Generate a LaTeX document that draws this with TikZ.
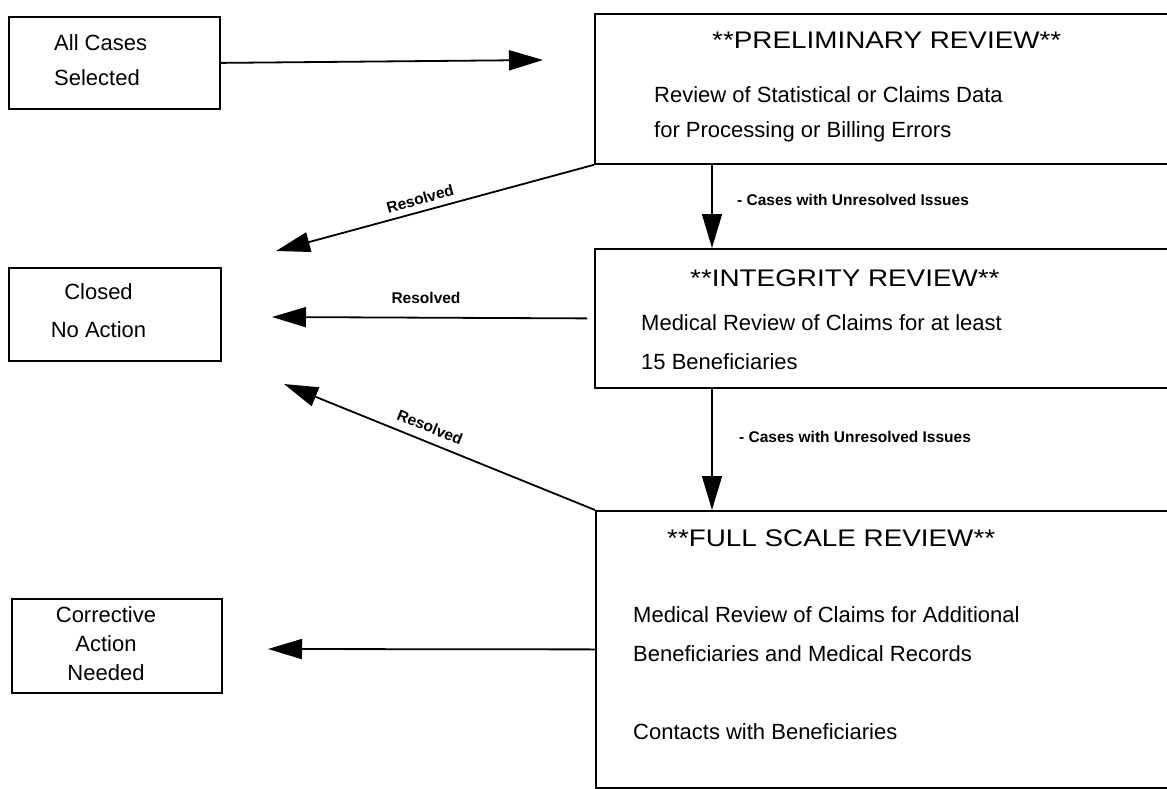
\documentclass[tikz,border=0pt]{standalone}
\usepackage{fontspec}
\setmainfont{Liberation Sans}
\usepackage{graphicx}
\usetikzlibrary{arrows.meta}
\newcommand{\wtitle}[1]{\scalebox{1.16}[1]{#1}}

\begin{document}
\begin{tikzpicture}[x=1pt,y=-1pt,
  box/.style={draw,line width=1.8pt,inner sep=0pt,anchor=north west},
  txt/.style={inner sep=0pt,anchor=west,align=left,font=\fontsize{22}{39}\selectfont},
  ttl/.style={inner sep=0pt,anchor=west,font=\fontsize{24}{28}\selectfont},
  lbl/.style={inner sep=0pt,font=\fontsize{15.5}{18}\selectfont\bfseries},
  arr/.style={line width=1.8pt,-{Triangle[length=34pt,width=20pt]}}]
\useasboundingbox (0,0) rectangle (1167,789);
\clip (0,0) rectangle (1167,789);
% left column
\node[box,minimum width=211pt,minimum height=92pt] (allcases) at (8,16) {};
\node[txt,font=\fontsize{22}{35}\selectfont] (allcasesT) at (54,60.5) {All Cases\\Selected};
\node[box,minimum width=212pt,minimum height=93pt] (closed) at (8,267) {};
\node[txt,anchor=center,align=center,font=\fontsize{22}{38}\selectfont] (closedT) at (98.5,311) {Closed\\No Action};
\node[box,minimum width=210pt,minimum height=94pt] (correct) at (11,598) {};
\node[txt,anchor=center,align=center,font=\fontsize{22}{29}\selectfont] (correctT) at (106,644) {Corrective\\Action\\Needed};
% review stages (open on the right)
\node[box,minimum width=600pt,minimum height=150pt] (prelim) at (594,13) {};
\node[ttl] (prelimT) at (712,40) {\wtitle{**PRELIMINARY REVIEW**}};
\node[txt,font=\fontsize{22}{35}\selectfont] (prelimB) at (654,114.5) {Review of Statistical or Claims Data\\for Processing or Billing Errors};
\node[box,minimum width=600pt,minimum height=139pt] (integ) at (594,248) {};
\node[ttl] (integT) at (690,278) {\wtitle{**INTEGRITY REVIEW**}};
\node[txt] (integB) at (641,342.5) {Medical Review of Claims for at least\\15 Beneficiaries};
\node[box,minimum width=600pt,minimum height=277pt] (full) at (595,510) {};
\node[ttl] (fullT) at (667,538) {\wtitle{**FULL SCALE REVIEW**}};
\node[txt] (fullB) at (633,634.5) {Medical Review of Claims for Additional\\Beneficiaries and Medical Records};
\node[txt] (fullC) at (633,732) {Contacts with Beneficiaries};
% arrow ends
\coordinate (t0) at (543,60);
\coordinate (t1) at (276,251);
\coordinate (t2) at (272,317);
\coordinate (t3) at (284,384);
\coordinate (t4) at (268,649);
\draw[arr] (allcases.east) -- (t0);
\draw[arr,line width=1.4pt] ([xshift=118pt]prelim.south west) -- ([xshift=118pt]integ.north west);
\draw[arr,line width=1.4pt] ([xshift=118pt]integ.south west) -- ([xshift=117pt]full.north west);
\node[lbl,anchor=west] (unres1) at (737,200) {- Cases with Unresolved Issues};
\node[lbl,anchor=west] (unres2) at (739,437) {- Cases with Unresolved Issues};
\draw[arr] (prelim.south west) -- (t1);
\draw[arr] ([xshift=-7pt]integ.west) -- (t2);
\draw[arr] (full.north west) -- (t3);
\draw[arr] (full.west) -- (t4);
\node[lbl,rotate=15.5] (res1) at (420,199) {Resolved};
\node[lbl] (res2) at (426,298) {Resolved};
\node[lbl,rotate=-22] (res3) at (430,427) {Resolved};
\end{tikzpicture}
\end{document}
